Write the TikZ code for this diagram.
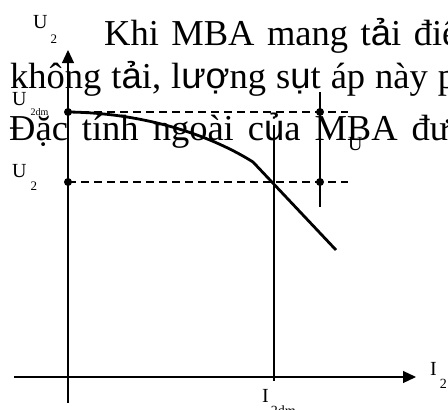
\documentclass[tikz,border=0pt]{standalone}
\usepackage{fontspec}
\setmainfont{Liberation Serif}
\newfontfamily\fbfont{Liberation Sans}
\usepackage{tikz}
\usetikzlibrary{arrows.meta,positioning}

\begin{document}
\begin{tikzpicture}[
			x=1pt, y=-1pt,
			body/.style={anchor=base west, inner sep=0pt,
				font=\fontsize{36.5}{40}\selectfont},
			lbl/.style={anchor=base west, inner sep=0pt,
				font=\fontsize{20}{20}\selectfont},
			axis/.style={line width=1.2pt, -{Triangle[length=13pt,width=12pt]}},
			thin/.style={line width=1.2pt},
			dashline/.style={line width=1.2pt, dash pattern=on 8pt off 5pt},
			curve/.style={line width=2.8pt},
			dot/.style={circle, fill, inner sep=0pt, minimum size=8pt}
			]
			\useasboundingbox (0,0) rectangle (448,410);
			
			% ---- Text lines ----
			\node[body] (line1) at (104,45)
			{\spaceskip=12.5pt\relax Khi MBA mang t{\fbfont ả}i điện};
			\node[body] (line2) at (10,88)
			{\spaceskip=10pt\relax không t{\fbfont ả}i, l{\fbfont ượ}ng s{\fbfont ụ}t áp này phụ};
			\node[body] (line3) at (9,140)
			{\spaceskip=14pt\relax Đặc tính ngoài c{\fbfont ủ}a MBA được};
			
			% ---- Axes ----
			\coordinate (xs) at (14,377);
			\coordinate (xe) at (416,377);
			\coordinate (ys) at (68,403);
			\coordinate (ye) at (68,50);
			\draw[axis] (xs) -- (xe);
			\draw[axis] (ys) -- (ye);
			
			% ---- Points ----
			\node[dot] (u0) at (68,112) {};
			\node[dot] (u1) at (68,182) {};
			\node[dot] (r0) at (320,112) {};
			\node[dot] (r1) at (320,182) {};
			\coordinate (e0) at (348,112);
			\coordinate (e1) at (348,182);
			\coordinate (v0) at (320,92);
			\coordinate (v1) at (320,207);
			\coordinate (i0) at (274,125);
			\coordinate (i1) at (274,381);
			\coordinate (k) at (253,162);
			\coordinate (cend) at (336,250);
			
			% ---- Lines ----
			\draw[dashline] (u0.center) -- (e0);
			\draw[dashline] (u1.center) -- (e1);
			\draw[thin] (v0) -- (v1);
			\draw[thin] (i0) -- (i1);
			\draw[curve] (u0.center) .. controls (150,113) and (215,138) .. (k) -- (cend);
			
			% ---- Labels ----
			\node[lbl] (lu2) at (33,28)
			{U\kern3pt\raisebox{-15pt}{\fontsize{13}{13}\selectfont 2}};
			\node[lbl] (lu2dm) at (12,105)
			{U\kern4pt\raisebox{-10pt}{\fontsize{10}{10}\selectfont 2dm}};
			\node[lbl] (lu2b) at (12,177)
			{U\kern4pt\raisebox{-13pt}{\fontsize{13}{13}\selectfont 2}};
			\node[lbl] (ldu) at (348,150) {U};
			\node[lbl] (li2) at (430,375)
			{I\kern3pt\raisebox{-13pt}{\fontsize{14}{14}\selectfont 2}};
			\node[lbl] (li2dm) at (262,402)
			{I\kern2pt\raisebox{-13pt}{\fontsize{14}{14}\selectfont 2dm}};
			
		\end{tikzpicture}
\end{document}
